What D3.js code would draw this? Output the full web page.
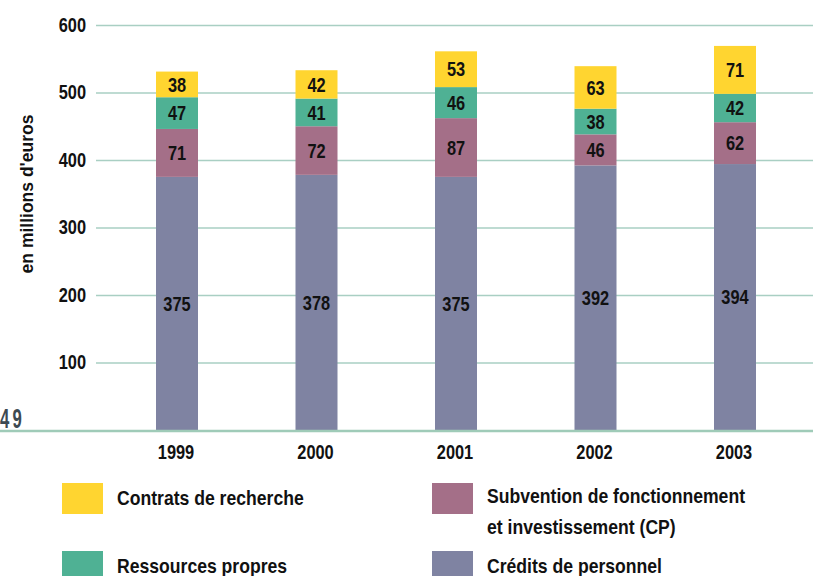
<!DOCTYPE html>
<html>
<head>
<meta charset="utf-8">
<script src="https://cdn.jsdelivr.net/npm/d3@7"></script>
<style>
  html, body { margin: 0; padding: 0; background: #fff; }
  svg { display: block; }
  .narrow { font-family: "Liberation Sans", Arial, sans-serif; font-weight: bold; }
</style>
</head>
<body>
<svg id="chart" width="813" height="576"></svg>
<script>
const years = ["1999", "2000", "2001", "2002", "2003"];
const seriesNames = ["Crédits de personnel", "Subvention de fonctionnement et investissement (CP)", "Ressources propres", "Contrats de recherche"];
const credits = [375, 378, 375, 392, 394];
const subvention = [71, 72, 87, 46, 62];
const ressources = [47, 41, 46, 38, 42];
const contrats = [38, 42, 53, 63, 71];
const colors = ["#7F83A2", "#A46F88", "#4FB194", "#FFD530"];
const yTicks = [100, 200, 300, 400, 500, 600];

const svg = d3.select("#chart");
const W = 813;
const SX = 0.82; // condensed look

function narrow(g, x, y, txt, size, anchor, sx) {
  sx = sx || SX;
  return g.append("text")
    .attr("class", "narrow")
    .attr("transform", `translate(${x},${y}) scale(${sx},1)`)
    .attr("text-anchor", anchor || "start")
    .attr("fill", "#111")
    .style("font-size", size + "px")
    .text(txt);
}

const y = d3.scaleLinear().domain([0, 600]).range([430, 25]);
const x = d3.scalePoint().domain(years).range([177, 735]);
const barW = 42;

// gridlines + tick labels
const axis = d3.axisLeft(y).tickValues(yTicks).tickSize(-(W - 96)).tickPadding(10).tickFormat(d3.format("d"));
const gAxis = svg.append("g").attr("transform", "translate(96,0)").call(axis);
gAxis.select(".domain").remove();
gAxis.selectAll(".tick line").attr("stroke", "#A9CFC3").attr("stroke-width", 1.5);
gAxis.selectAll(".tick text")
  .attr("class", "narrow")
  .attr("fill", "#111")
  .attr("x", -10 / SX)
  .attr("transform", `scale(${SX},1)`)
  .style("font-size", "20px");

// stacked data
const table = years.map((yr, i) => ({ year: yr, s0: credits[i], s1: subvention[i], s2: ressources[i], s3: contrats[i] }));
const stack = d3.stack().keys(["s0", "s1", "s2", "s3"]);
const stacked = stack(table);

const layers = svg.append("g").selectAll("g").data(stacked).join("g")
  .attr("fill", (d, i) => colors[i]);
layers.selectAll("rect").data(d => d).join("rect")
  .attr("x", d => x(d.data.year) - barW / 2)
  .attr("width", barW)
  .attr("y", d => y(d[1]))
  .attr("height", d => y(d[0]) - y(d[1]));

// bar labels
const labels = svg.append("g");
stacked.forEach(layer => {
  layer.forEach(d => {
    narrow(labels, x(d.data.year), (y(d[0]) + y(d[1])) / 2, d[1] - d[0], 20, "middle")
      .attr("dy", "0.36em");
  });
});

// baseline
svg.append("line").attr("x1", 0).attr("x2", W).attr("y1", y(0) + 1).attr("y2", y(0) + 1)
  .attr("stroke", "#9FCBB8").attr("stroke-width", 2.5);

// page number
narrow(svg, 0, 428, "49", 27, "start", 0.62)
  .attr("fill", "#3D4A52").style("letter-spacing", "5px");

// year labels
const gy = svg.append("g");
years.forEach(yr => narrow(gy, x(yr) - 1, 459, yr, 20, "middle"));

// y axis title
svg.append("text")
  .attr("transform", "translate(33,194) rotate(-90)")
  .attr("text-anchor", "middle")
  .attr("fill", "#111")
  .style("font-family", "'Liberation Sans', Arial, sans-serif")
  .style("font-weight", "bold")
  .style("font-size", "17.5px")
  .text("en millions d'euros");

// legend
const legendItems = [
  { idx: 3, x: 62, y: 483, lines: ["Contrats de recherche"], ty: 505 },
  { idx: 1, x: 432, y: 483, lines: ["Subvention de fonctionnement", "et investissement (CP)"], ty: 503 },
  { idx: 2, x: 62, y: 551, lines: ["Ressources propres"], ty: 573 },
  { idx: 0, x: 432, y: 551, lines: ["Crédits de personnel"], ty: 573 }
];
const lg = svg.append("g");
legendItems.forEach(it => {
  lg.append("rect").attr("x", it.x).attr("y", it.y).attr("width", 41).attr("height", 31).attr("fill", colors[it.idx]);
  it.lines.forEach((ln, k) => {
    narrow(lg, it.x + 55, it.ty + k * 31, ln, 20, "start", 0.88);
  });
});
</script>
</body>
</html>
